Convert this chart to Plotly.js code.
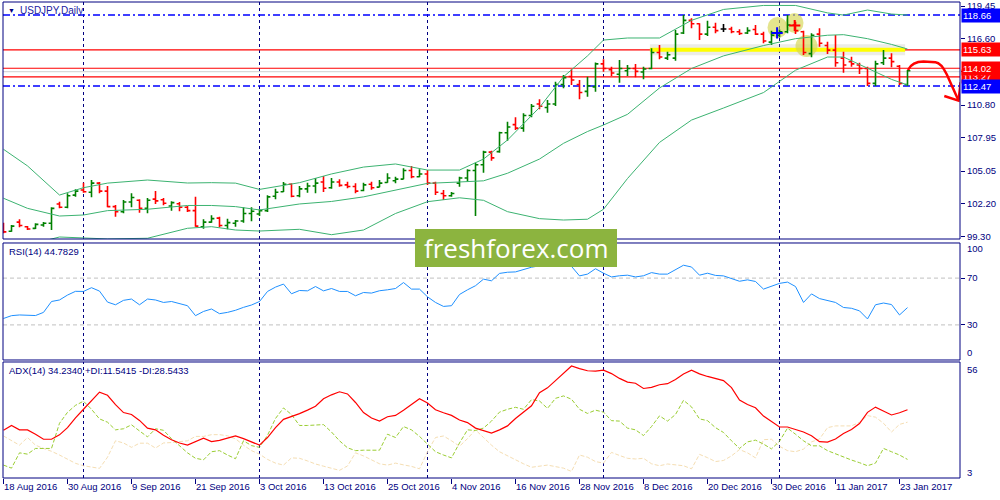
<!DOCTYPE html>
<html><head><meta charset="utf-8">
<script src="https://cdn.plot.ly/plotly-3.0.1.min.js"></script>
<style>html,body{margin:0;padding:0;background:#fff}#chart{width:1000px;height:500px}</style>
</head><body><div id="chart"></div>
<script>
// ---------- data ----------
const dateLabels = ['18 Aug 2016','30 Aug 2016','9 Sep 2016','21 Sep 2016','3 Oct 2016','13 Oct 2016','25 Oct 2016','4 Nov 2016','16 Nov 2016','28 Nov 2016','8 Dec 2016','20 Dec 2016','30 Dec 2016','11 Jan 2017','23 Jan 2017'];
const labelIdx = [0,8,16,24,32,40,48,56,64,72,80,88,96,104,112];
const monthStartIdx = [10,32,53,75,97];

const high = [100.55,100.35,100.84,100.26,100.5,100.6,101.89,102.38,103.11,103.46,
104.04,104.27,104.1,103.75,102.09,102.53,103.11,102.59,102.7,103.31,
102.7,102.41,102.35,102.0,102.82,100.84,101.19,101.07,100.9,100.78,
101.89,101.89,101.72,102.94,103.51,104.1,103.98,103.75,104.04,104.45,
104.62,104.45,104.33,104.13,103.98,104.04,104.13,104.27,104.86,104.56,
105.29,105.49,105.2,105.14,104.13,103.4,103.23,104.56,105.2,105.78,
106.83,106.83,108.49,109.36,109.74,110.09,110.9,111.31,111.25,112.85,
113.43,113.93,113.0,113.28,114.52,114.8,114.16,114.74,114.3,114.39,
114.16,115.76,116.05,115.46,117.36,118.66,118.38,117.94,118.17,117.99,
117.88,117.65,117.42,117.59,117.79,117.21,117.3,117.4,118.66,118.08,
117.3,117.07,117.5,116.34,116.92,115.46,115.03,114.51,114.16,114.68,
115.61,115.32,114.3,113.87];
const low = [99.62,99.76,100.15,99.91,100.0,100.2,99.91,101.8,101.8,102.82,
103.17,102.76,103.11,101.89,101.07,101.37,101.89,101.42,101.37,102.18,
102.06,101.59,101.54,101.48,100.2,100.02,100.55,100.15,99.97,100.2,
100.55,100.67,101.13,101.48,102.59,103.23,102.76,102.76,103.17,103.11,
103.23,103.51,103.69,103.55,103.11,103.29,103.43,103.63,104.04,103.98,
104.33,104.42,104.51,103.84,102.96,102.53,102.82,103.69,104.13,101.13,
104.91,105.96,106.65,107.7,108.63,108.49,109.74,110.44,110.14,110.73,
112.27,112.56,111.31,111.54,111.97,113.72,113.34,112.76,113.34,113.23,
113.06,113.93,114.8,114.74,114.68,117.01,117.5,116.48,116.83,117.07,
117.18,117.07,116.92,117.01,116.92,116.2,116.05,116.7,117.07,117.01,
115.18,114.98,115.9,115.26,114.16,113.63,114.16,113.52,112.47,112.47,
114.3,114.1,112.56,112.47];
const open = [100.4,99.8,100.6,100.2,100.05,100.35,100.5,102.18,101.89,102.95,
103.4,103.2,104.0,103.3,101.95,101.5,102.35,102.5,101.8,102.6,
102.55,102.0,102.2,101.9,101.6,100.2,100.6,100.95,100.3,100.5,
100.7,101.35,101.3,101.6,102.85,103.25,103.9,102.9,103.5,103.75,
104.1,103.6,104.1,103.85,103.7,103.35,103.9,103.65,104.05,104.2,
104.35,105.1,104.55,104.8,104.0,103.1,102.9,104.0,104.45,105.1,
105.6,106.7,106.75,108.4,109.1,108.8,109.9,110.9,110.6,110.9,
112.6,113.3,112.6,112.0,112.4,114.4,113.9,113.5,113.8,114.0,
113.7,114.0,115.4,114.9,114.9,117.1,118.2,117.9,117.0,117.6,
117.45,117.45,117.2,117.1,117.4,117.0,116.3,116.9,117.2,117.8,
117.2,115.3,117.0,116.0,115.6,114.9,114.6,114.3,114.0,112.7,
114.5,114.9,114.2,112.6];
const close = [99.75,100.25,100.3,100.0,100.4,100.5,101.8,101.89,102.9,103.3,
103.25,104.0,103.3,101.95,101.5,102.35,102.75,101.8,102.5,102.45,
102.25,102.3,101.9,101.6,100.25,100.6,100.9,100.3,100.55,100.7,
101.35,101.55,101.6,102.8,103.2,103.9,102.85,103.5,103.75,104.0,
103.55,104.1,103.8,103.7,103.3,103.85,103.6,104.0,104.45,104.35,
105.1,104.55,104.8,104.0,103.2,102.9,103.1,104.45,105.1,105.6,
106.7,106.2,108.4,108.9,108.8,109.9,110.7,110.7,110.9,112.6,
113.2,113.0,111.9,112.5,114.4,114.0,113.6,114.0,114.0,113.75,
113.95,115.4,115.0,115.2,117.0,118.2,117.9,117.0,117.6,117.3,
117.45,117.2,117.05,117.3,117.0,116.4,116.9,117.2,117.8,117.3,
115.4,116.9,116.2,115.6,114.5,114.3,114.4,114.0,112.7,114.4,
114.9,114.6,112.7,113.8];

// Bollinger bands (20,2) read at sample bars
const bbIdx   = [0,3,7,10,13,18,23,26,29,32,37,41,45,49,53,57,60,63,67,70,73,75,78,82,86,90,95,99,103,105,108,111,113];
const bbUpper = [106.95,105.5,102.96,103.6,104.0,104.27,104.01,104.04,104.0,103.45,104.04,104.8,105.4,105.67,105.14,105.14,106.1,107.76,110.6,113.28,115.1,116.48,116.66,116.66,118.2,119.15,119.5,119.5,118.85,118.66,119.1,118.75,118.66];
const bbMid   = [102.68,101.8,101.13,101.22,101.6,101.72,102.05,102.05,101.95,101.66,102.18,102.4,102.8,103.4,103.98,104.1,104.2,104.86,106.1,107.47,108.5,109.07,110.0,112.3,114.0,115.1,116.0,116.6,116.9,116.95,116.6,116.1,115.7];
const bbLower = [98.4,98.6,99.3,99.19,99.13,99.19,100.06,100.2,99.91,99.82,99.97,99.5,99.91,101.35,102.38,102.72,102.5,101.51,100.9,100.78,100.85,101.72,104.4,107.55,109.5,110.55,111.9,113.85,115.0,115.0,114.0,113.05,112.56];

const rsi = [35.5,37.9,38.5,38.3,38.0,40.7,50.0,51.3,55.5,58.7,
58.6,61.8,58.9,49.5,47.2,51.0,52.1,47.2,52.1,51.3,
49.2,50.0,48.0,46.4,37.9,41.5,43.6,39.6,40.7,42.5,
45.0,47.0,50.0,58.6,62.3,64.9,56.6,59.4,59.1,62.8,
59.1,61.1,58.6,58.6,54.9,57.7,57.2,59.2,60.0,61.1,
66.2,60.6,60.6,54.0,49.2,45.8,46.4,56.0,60.0,63.5,
69.1,67.7,74.0,75.0,75.3,77.5,79.3,80.5,81.5,85.0,
86.0,80.0,71.9,73.4,78.0,74.2,71.0,72.0,72.5,71.0,
72.0,74.7,73.4,73.4,77.0,81.0,79.5,72.5,74.2,72.3,
71.9,69.5,67.3,68.5,67.1,60.6,63.2,65.5,66.6,62.8,
49.2,56.5,52.5,50.8,49.2,44.9,44.2,42.0,35.1,47.2,
48.7,47.4,38.5,44.8];

const adx = [24.8,27.0,25.0,25.0,23.0,20.7,20.7,22.7,26.0,30.5,
34.4,38.5,42.2,40.8,36.5,32.9,32.0,29.3,25.8,25.0,
22.5,20.5,19.0,18.0,19.6,21.2,19.6,20.2,21.2,22.2,
21.0,19.5,18.0,21.5,26.0,29.8,31.0,32.4,34.0,35.8,
39.2,41.0,42.4,41.4,37.5,32.9,30.4,29.0,31.0,31.6,
34.0,36.8,39.2,37.3,34.2,32.8,31.6,29.5,28.3,25.8,
24.5,23.5,25.0,26.8,30.2,33.3,36.0,42.0,44.2,47.5,
51.0,54.2,53.0,52.0,51.8,52.3,50.7,48.5,46.8,46.3,
43.9,44.4,45.6,46.1,48.0,50.5,52.3,50.6,49.4,48.3,
47.5,44.3,38.6,36.6,35.1,31.3,29.0,26.3,26.3,25.3,
24.0,22.3,19.6,19.4,20.8,23.3,25.2,27.9,33.0,35.4,
33.6,31.8,32.8,34.2];
const plusDI = [8.9,7.5,14.5,13.9,16.5,16.6,16.5,28.0,33.0,36.2,
38.1,34.4,30.0,28.5,25.0,25.5,27.3,24.5,21.8,25.5,
24.8,21.0,17.8,14.5,12.0,11.3,15.0,15.5,13.5,11.8,
20.0,17.8,17.0,22.5,30.2,35.0,32.0,27.0,27.0,27.3,
27.4,24.0,20.0,16.8,15.5,15.7,15.7,15.7,23.0,21.5,
26.5,25.0,22.0,18.5,15.0,13.5,12.2,19.0,25.0,24.7,
25.8,29.0,33.1,34.4,35.3,34.4,38.8,38.2,34.8,39.4,
40.5,39.0,34.4,32.5,34.0,33.1,29.2,29.0,25.8,25.0,
22.4,26.5,31.4,29.0,32.0,38.5,35.5,30.0,29.2,26.0,
23.8,20.0,16.5,19.5,20.3,18.5,16.3,19.8,25.8,23.0,
20.0,17.7,17.7,15.5,14.0,12.4,11.2,10.0,8.6,9.8,
16.5,15.0,13.5,11.5];
const minusDI = [22.2,20.0,18.0,21.5,18.0,16.5,15.2,13.5,11.5,9.7,
8.6,8.0,7.4,12.5,20.0,19.0,17.0,18.9,18.9,16.7,
19.0,19.2,19.6,20.0,22.0,22.0,22.8,22.8,22.3,20.9,
18.0,15.5,13.9,11.5,9.8,8.9,12.2,12.0,10.8,9.4,
8.4,7.6,6.5,8.5,14.5,13.1,11.2,9.5,8.9,9.8,
9.0,8.3,7.2,15.0,21.5,22.2,20.0,17.5,21.0,25.0,
21.5,18.0,15.0,13.1,11.5,9.5,7.9,8.3,8.9,8.2,
7.5,6.0,13.5,12.5,10.5,9.8,14.7,13.3,12.0,11.7,
12.0,9.5,8.6,9.4,9.0,8.6,7.2,13.8,12.3,10.5,
11.0,13.1,16.0,14.5,12.2,20.5,20.7,17.5,15.5,15.0,
16.2,19.5,20.8,26.0,26.8,26.8,26.8,28.5,31.5,30.8,
28.0,24.0,27.5,28.5];

const priceTicks = [99.30,102.20,105.05,107.95,110.80,113.70,116.60,119.45];
const blueLevels = [118.66,112.47];
const redLevels = [115.63,114.02,113.27];
const bidLevel = 113.72;
const zoneLevel = 115.63;        // highlighted (yellow) level
const zoneFrom = 80.8, zoneTo = 112.7;
const orderIdx = [96.7, 98.9];
const orderPrice = [117.1, 117.75];
const orderColor = ['#0000FF','#FF0000'];
const circles = [[95.5,98.0,116.66,118.49],[97.75,100.0,117.1,118.84],[99.0,101.75,115.0,116.92]];
const arrowPts = [[113.06,113.87],[113.6,114.6],[115.0,114.6],[116.5,114.55],[117.2,114.5],[117.9,113.5],[119.375,111.2]];
const arrowHead = [[117.6,111.6],[119.375,111.2],[119.65,112.8]];
const lastRSI = '44.7829', lastADX = '34.2340', lastPDI = '11.5415', lastMDI = '28.5433';

// ---------- build ----------
const NAVY = '#000080';
const barIdx = close.map((_, i) => i);
const norm = barIdx.filter(i => open[i] !== close[i]);
const doji = barIdx.filter(i => open[i] === close[i]);
const pick = (arr, ids) => ids.map(i => arr[i]);

const traces = [];
const bbLine = {color: '#3CB371', width: 1};
[bbUpper, bbMid, bbLower].forEach(arr => traces.push({type: 'scatter', mode: 'lines', x: bbIdx, y: arr, xaxis: 'x', yaxis: 'y3', line: bbLine, hoverinfo: 'skip'}));
traces.push({type: 'ohlc', x: norm, open: pick(open, norm), high: pick(high, norm), low: pick(low, norm), close: pick(close, norm),
  xaxis: 'x', yaxis: 'y3', tickwidth: 0.36, increasing: {line: {color: '#008000', width: 1.6}}, decreasing: {line: {color: '#FF0000', width: 1.6}}, hoverinfo: 'skip'});
traces.push({type: 'ohlc', x: doji, open: pick(open, doji), high: pick(high, doji), low: pick(low, doji), close: pick(close, doji),
  xaxis: 'x', yaxis: 'y3', tickwidth: 0.36, increasing: {line: {color: '#000000', width: 1.6}}, decreasing: {line: {color: '#000000', width: 1.6}}, hoverinfo: 'skip'});
traces.push({type: 'scatter', mode: 'markers', x: orderIdx, y: orderPrice, xaxis: 'x', yaxis: 'y3',
  marker: {symbol: 'cross-thin-open', size: 8, color: orderColor, line: {color: orderColor, width: 2}}, hoverinfo: 'skip'});
traces.push({type: 'scatter', mode: 'lines', x: barIdx, y: rsi, xaxis: 'x', yaxis: 'y2', line: {color: '#1E90FF', width: 1}, hoverinfo: 'skip'});
traces.push({type: 'scatter', mode: 'lines', x: barIdx, y: minusDI, xaxis: 'x', yaxis: 'y', line: {color: '#F5DEB3', width: 1, dash: '4px,2px'}, hoverinfo: 'skip'});
traces.push({type: 'scatter', mode: 'lines', x: barIdx, y: plusDI, xaxis: 'x', yaxis: 'y', line: {color: '#9ACD32', width: 1, dash: '4px,2px'}, hoverinfo: 'skip'});
traces.push({type: 'scatter', mode: 'lines', x: barIdx, y: adx, xaxis: 'x', yaxis: 'y', line: {color: '#FF0000', width: 1.2}, hoverinfo: 'skip'});

const shapes = [];
// vertical month grid
monthStartIdx.forEach(m => ['y domain','y2 domain','y3 domain'].forEach(yr => shapes.push({type: 'line', xref: 'x', yref: yr, x0: m, x1: m, y0: 0, y1: 1, layer: 'below', line: {color: NAVY, width: 1, dash: '3px,3px'}})));
// levels
shapes.push({type: 'line', xref: 'paper', yref: 'y3', x0: 0, x1: 1, y0: bidLevel, y1: bidLevel, layer: 'below', line: {color: '#D0D0D0', width: 1}});
// yellow zone with soft shadow
shapes.push({type: 'line', xref: 'x', yref: 'y3', x0: zoneFrom, x1: zoneTo, y0: zoneLevel, y1: zoneLevel, layer: 'below', line: {color: 'rgba(170,170,150,0.22)', width: 11}});
shapes.push({type: 'line', xref: 'x', yref: 'y3', x0: zoneFrom, x1: zoneTo, y0: zoneLevel, y1: zoneLevel, layer: 'below', line: {color: '#FFFF00', width: 4}});
// highlight blobs
circles.forEach(c => shapes.push({type: 'circle', xref: 'x', yref: 'y3', x0: c[0], x1: c[1], y0: c[2], y1: c[3], layer: 'below', fillcolor: 'rgba(214,214,80,0.65)', line: {width: 0}}));
redLevels.forEach(v => shapes.push({type: 'line', xref: 'paper', yref: 'y3', x0: 0, x1: 1, y0: v, y1: v, layer: 'below', line: {color: '#FF0000', width: 1.2}}));
blueLevels.forEach(v => shapes.push({type: 'line', xref: 'paper', yref: 'y3', x0: 0, x1: 1, y0: v, y1: v, layer: 'below', line: {color: '#0000FF', width: 1.5, dash: '7px,3px,2px,3px'}}));
// RSI levels
[70, 30].forEach(v => shapes.push({type: 'line', xref: 'paper', yref: 'y2', x0: 0, x1: 1, y0: v, y1: v, layer: 'below', line: {color: '#C0C0C0', width: 1, dash: '4px,3px'}}));
// red hand arrow
const P = p => p[0] + ',' + p[1];
shapes.push({type: 'path', xref: 'x', yref: 'y3', layer: 'above',
  path: 'M' + P(arrowPts[0]) + ' Q' + P(arrowPts[1]) + ' ' + P(arrowPts[2]) + ' L' + P(arrowPts[3]) + ' Q' + P(arrowPts[4]) + ' ' + P(arrowPts[5]) + ' L' + P(arrowPts[6]),
  line: {color: '#FF0000', width: 2.5}});
shapes.push({type: 'path', xref: 'x', yref: 'y3', layer: 'above',
  path: 'M' + P(arrowHead[0]) + ' L' + P(arrowHead[1]) + ' L' + P(arrowHead[2]), line: {color: '#FF0000', width: 2.5}});
// panel borders
['y domain','y2 domain','y3 domain'].forEach(yr => shapes.push({type: 'rect', xref: 'paper', yref: yr, x0: 0, x1: 1, y0: 0, y1: 1, layer: 'above', line: {color: NAVY, width: 1}}));
// watermark
shapes.push({type: 'rect', xref: 'paper', yref: 'paper', x0: 0.4305, x1: 0.6416, y0: 0.4433, y1: 0.5231, layer: 'above', fillcolor: '#8CB43F', line: {width: 0}});

const ann = [];
const txt = (x, y, t, extra) => Object.assign({xref: 'paper', yref: 'paper', x: x, y: y, text: t, showarrow: false, xanchor: 'left', yanchor: 'middle', font: {size: 9.5, color: NAVY}}, extra || {});
ann.push(txt(0.0035, 0.982, '▼', {font: {size: 7, color: NAVY}}));
ann.push(txt(0.0155, 0.982, 'USDJPY,Daily', {font: {size: 10, color: '#2020A0'}}));
ann.push(txt(0.0042, 0.4748, 'RSI(14) ' + lastRSI));
ann.push(txt(0.0042, 0.2248, 'ADX(14) ' + lastADX + ' +DI:' + lastPDI + ' -DI:' + lastMDI));
// RSI/ADX edge labels
ann.push({xref: 'paper', yref: 'y2 domain', x: 1, y: 0.95, text: '100', showarrow: false, xanchor: 'left', yanchor: 'middle', xshift: 5, font: {size: 9.5, color: NAVY}});
ann.push({xref: 'paper', yref: 'y2 domain', x: 1, y: 0.06, text: '0', showarrow: false, xanchor: 'left', yanchor: 'middle', xshift: 5, font: {size: 9.5, color: NAVY}});
ann.push({xref: 'paper', yref: 'y domain', x: 1, y: 0.935, text: '56', showarrow: false, xanchor: 'left', yanchor: 'middle', xshift: 5, font: {size: 9.5, color: NAVY}});
ann.push({xref: 'paper', yref: 'y domain', x: 1, y: 0.045, text: '3', showarrow: false, xanchor: 'left', yanchor: 'middle', xshift: 5, font: {size: 9.5, color: NAVY}});
// price level boxes (113.27 first so the neighbours partly cover it, as in the terminal)
const box = (v, col) => ({xref: 'paper', yref: 'y3', x: 1, y: v, text: v.toFixed(2), showarrow: false, xanchor: 'left', yanchor: 'middle', xshift: 0.5,
  bgcolor: col, width: 36, height: 11, align: 'left', borderpad: 1, font: {size: 9.5, color: '#FFFFFF'}});
ann.push(box(redLevels[2], '#FF0000'));
ann.push(box(redLevels[1], '#FF0000'));
ann.push(box(redLevels[0], '#FF0000'));
ann.push(box(blueLevels[0], '#0000FF'));
ann.push(box(blueLevels[1], '#0000FF'));
// watermark text
ann.push({xref: 'paper', yref: 'paper', x: 0.5361, y: 0.4825, text: 'freshforex.com', showarrow: false, xanchor: 'center', yanchor: 'middle', font: {family: 'Open Sans', size: 26, color: '#FFFFFF'}});

const axY = {side: 'right', anchor: 'x', showgrid: false, zeroline: false, showline: false, fixedrange: true, tickcolor: NAVY, ticklen: 4, tickfont: {size: 9.5, color: NAVY}};
const layout = {
  width: 1000, height: 500,
  margin: {l: 3, r: 40, t: 2, b: 22},
  paper_bgcolor: '#FFFFFF', plot_bgcolor: '#FFFFFF', showlegend: false,
  font: {family: 'Liberation Sans, Arial, sans-serif', size: 9.5, color: NAVY},
  xaxis: {range: [-0.0625, 119.5625], anchor: 'y', showgrid: false, zeroline: false, showline: false, fixedrange: true,
    tickmode: 'array', tickvals: labelIdx, ticktext: dateLabels, ticks: 'outside', ticklen: 5, tickcolor: NAVY,
    ticklabelposition: 'outside right', tickfont: {size: 9.5, color: NAVY}, rangeslider: {visible: false}},
  yaxis: Object.assign({}, axY, {domain: [0, 0.2437], range: [3, 56], showticklabels: false, ticks: ''}),
  yaxis2: Object.assign({}, axY, {domain: [0.2479, 0.4937], range: [0, 100], tickmode: 'array', tickvals: [30, 70], ticks: 'outside'}),
  yaxis3: Object.assign({}, axY, {domain: [0.5021, 1], range: [99.125, 119.80], tickmode: 'array', tickvals: priceTicks, tickformat: '.2f', ticks: 'outside'}),
  shapes: shapes, annotations: ann
};
Plotly.newPlot('chart', traces, layout, {displayModeBar: false, staticPlot: true});
</script></body></html>
